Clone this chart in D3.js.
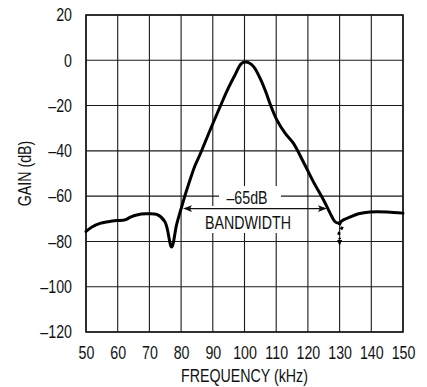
<!DOCTYPE html>
<html><head><meta charset="utf-8">
<script src="https://cdn.jsdelivr.net/npm/d3@7"></script>
<style>
html,body{margin:0;padding:0;background:#fff;}
svg text{font-family:"Liberation Sans",Arial,sans-serif;fill:#111;}
</style></head>
<body><svg id="c" width="427" height="387"></svg>
<script>
const freq = [50,52,54.4,57,59.7,62.3,64,66,69,72.3,74.9,77,78.6,80.2,81.8,84.4,86,89.1,92.3,95,97,99,100.3,101.5,103,104.9,107,108,110.2,112.8,115.4,118.5,121.7,124.9,127,128.5,129.6,131.2,133.3,136,139.6,145,150];
const gain = [-75.6,-73.5,-72,-71.3,-70.8,-70.5,-69.3,-68.3,-67.8,-68.1,-71.3,-82.5,-72.5,-64.6,-57.2,-46.5,-41.5,-31,-20.5,-12,-6.5,-1.5,-0.8,-1.2,-3,-7.9,-15,-19,-26.3,-32.2,-36.6,-44.7,-53.6,-61.6,-67.5,-71.2,-71.9,-70.5,-69.2,-67.8,-67,-67,-67.5];
const dashFreq = [129.6,130.9,129.8,130.1];
const dashGain = [-72,-73,-76.5,-79];
const xTicks = [50,60,70,80,90,100,110,120,130,140,150];
const yTicks = [20,0,-20,-40,-60,-80,-100,-120];
const bwLevel = -65.5;
const bwFreq = [80.6,126];
const labels = {x:"FREQUENCY (kHz)", y:"GAIN (dB)", bw1:"–65dB", bw2:"BANDWIDTH"};

const svg = d3.select("#c");
const m = {l:86, t:15, r:24, b:55};
const W = 427, H = 387;
const x = d3.scaleLinear().domain([50,150]).range([m.l, W-m.r]);
const y = d3.scaleLinear().domain([-120,20]).range([H-m.b, m.t]);
const fs = 18, sx = 0.79;

function ntext(px, py, str, rot){
  return svg.append("text")
    .attr("transform",`translate(${px},${py})${rot?` rotate(${rot})`:""} scale(${sx},1)`)
    .attr("text-anchor","middle").attr("font-size",fs).text(str);
}

// grid
const g = svg.append("g");
g.selectAll(".vx").data(xTicks).join("line")
  .attr("x1",d=>x(d)).attr("x2",d=>x(d)).attr("y1",y(20)).attr("y2",y(-120))
  .attr("stroke","#1a1a1a").attr("stroke-width",1.1);
g.selectAll(".hy").data(yTicks).join("line")
  .attr("y1",d=>y(d)).attr("y2",d=>y(d)).attr("x1",x(50)).attr("x2",x(150))
  .attr("stroke","#1a1a1a").attr("stroke-width",1.1);
svg.append("rect").attr("x",x(50)).attr("y",y(20)).attr("width",x(150)-x(50)).attr("height",y(-120)-y(20))
  .attr("fill","none").attr("stroke","#1a1a1a").attr("stroke-width",1.6);

// axes tick labels
const xa = svg.append("g").attr("transform",`translate(0,${y(-120)})`)
  .call(d3.axisBottom(x).tickValues(xTicks).tickSize(0).tickPadding(14).tickFormat(d3.format("d")));
const ya = svg.append("g").attr("transform",`translate(${x(50)},0)`)
  .call(d3.axisLeft(y).tickValues(yTicks).tickSize(0).tickPadding(14).tickFormat(d=>d<0?"–"+Math.abs(d):String(d)));
[xa,ya].forEach(a=>{a.select(".domain").remove(); a.selectAll("text").attr("font-size",fs).attr("font-family",null).style("fill","#111").attr("transform",`scale(${sx},1)`);});
ya.selectAll("text").attr("x",-14/sx);

ntext((x(50)+x(150))/2, 382, labels.x);
ntext(31, (y(20)+y(-120))/2, labels.y, -90);

// annotation boxes
svg.append("rect").attr("x",219).attr("y",186).attr("width",62).attr("height",20).attr("fill","#fff");
svg.append("rect").attr("x",200).attr("y",206).attr("width",96).attr("height",27).attr("fill","#fff");
ntext(247, 203.5, labels.bw1);
ntext(248, 228.5, labels.bw2);
const ay = y(bwLevel), ax1 = x(bwFreq[0]), ax2 = x(bwFreq[1]);
svg.append("line").attr("x1",ax1+6).attr("x2",ax2-6).attr("y1",ay).attr("y2",ay).attr("stroke","#111").attr("stroke-width",1.2);
svg.append("path").attr("d",`M${ax1},${ay}L${ax1+9},${ay-3.3}L${ax1+7},${ay}L${ax1+9},${ay+3.3}Z`).attr("fill","#111");
svg.append("path").attr("d",`M${ax2},${ay}L${ax2-9},${ay-3.3}L${ax2-7},${ay}L${ax2-9},${ay+3.3}Z`).attr("fill","#111");

// curve
const pts = freq.map((f,i)=>[f,gain[i]]);
const line = d3.line().x(d=>x(d[0])).y(d=>y(d[1])).curve(d3.curveCatmullRom.alpha(0.5));
svg.append("path").attr("d",line(pts)).attr("fill","none").attr("stroke","#000").attr("stroke-width",3).attr("stroke-linejoin","round").attr("stroke-linecap","round");

// dashed
const dpts = dashFreq.map((f,i)=>[f,dashGain[i]]);
svg.append("path").attr("d",line(dpts)).attr("fill","none").attr("stroke","#000").attr("stroke-width",2.8).attr("stroke-dasharray","3,3");
const tx = x(130), ty = y(-82);
svg.append("path").attr("d",`M${tx},${ty}L${tx-2.5},${ty-6}L${tx+2.5},${ty-6}Z`).attr("fill","#000");
</script></body></html>
